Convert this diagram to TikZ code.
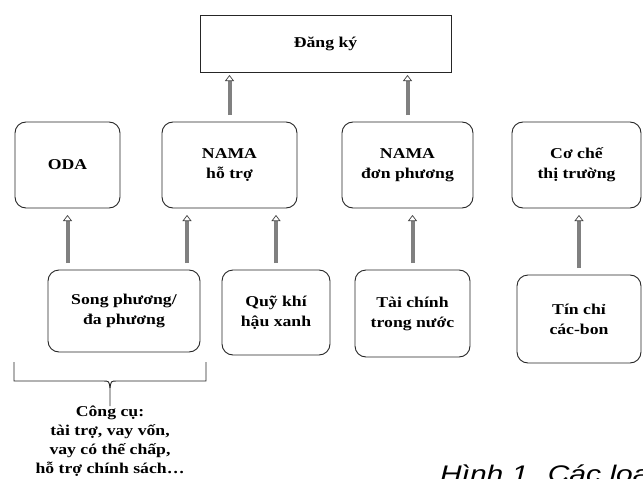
\documentclass[tikz,border=0pt]{standalone}
\usepackage{fontspec}
\setmainfont{Liberation Serif}[FakeStretch=1.18]
\newfontfamily\capfont{Liberation Sans}[FakeStretch=1.25]
\usetikzlibrary{arrows.meta}

\begin{document}
\begin{tikzpicture}[
  x=1pt, y=-1pt,
  every node/.style = {align=center, inner sep=0pt, outer sep=0pt,
                       font=\fontsize{15}{20}\selectfont\bfseries},
  box/.style = {shape=rectangle, rounded corners=11pt, draw=black!85,
                line width=0.9pt},
  uparrow/.style = {draw=black!50, line width=4pt,
    -{Triangle[open, line width=0.7pt, length=6pt, width=9pt,
               color=black!75, fill=white]}}
]
  \clip (0,0) rectangle (643,479);

  % top
  \node[draw=black!85, line width=0.9pt, minimum width=251pt, minimum height=57pt]
    (dangky) at (325.5,43.5) {Đăng ký};

  % middle row
  \node[box, minimum width=105pt, minimum height=86pt] (oda)    at (67.5,165)  {ODA};
  \node[box, minimum width=135pt, minimum height=86pt] (namaht) at (229.5,165) {NAMA\\hỗ trợ};
  \node[box, minimum width=131pt, minimum height=86pt] (namadp) at (407.5,165) {NAMA\\đơn phương};
  \node[box, minimum width=129pt, minimum height=86pt] (coche)  at (576.5,165) {Cơ chế\\thị trường};

  % bottom row
  \node[box, minimum width=152pt, minimum height=82pt] (songph)   at (124,311)   {Song phương/\\đa phương};
  \node[box, minimum width=108pt, minimum height=85pt] (quy)      at (276,312.5) {Quỹ khí\\hậu xanh};
  \node[box, minimum width=115pt, minimum height=87pt] (taichinh) at (412.5,313.5) {Tài chính\\trong nước};
  \node[box, minimum width=124pt, minimum height=88pt] (tinchi)   at (579,319)   {Tín chỉ\\các-bon};

  \node[anchor=north, font=\fontsize{15}{19}\selectfont\bfseries] (congcu) at (110,406)
    {Công cụ:\\tài trợ, vay vốn,\\vay có thế chấp,\\hỗ trợ chính sách…};

  \node[anchor=base west, font=\capfont\itshape\fontsize{24}{26}\selectfont]
    (caption) at (440,482) {Hình 1. Các loại};

  % arrows up
  \draw[uparrow, shorten <=7pt, shorten >=3pt] (namaht.north) -- (namaht.north |- dangky.south);
  \draw[uparrow, shorten <=7pt, shorten >=3pt] (namadp.north) -- (namadp.north |- dangky.south);

  \draw[uparrow, shorten <=7pt, shorten >=7pt] (songph.north -| oda.south) -- (oda.south);
  \draw[uparrow, shorten <=7pt, shorten >=7pt] ([xshift=-13pt]songph.north east)
    -- ([xshift=-13pt]songph.north east |- namaht.south);
  \draw[uparrow, shorten <=7pt, shorten >=7pt] (quy.north) -- (quy.north |- namaht.south);
  \draw[uparrow, shorten <=7pt, shorten >=7pt] (taichinh.north) -- (taichinh.north |- namadp.south);
  \draw[uparrow, shorten <=7pt, shorten >=7pt] (tinchi.north) -- (tinchi.north |- coche.south);

  % brace
  \draw[black!85, line width=0.9pt] (14,362) |- (103,381) .. controls (109,381) .. (110,388);
  \draw[black!85, line width=0.9pt] (206,362) |- (117,381) .. controls (111,381) .. (110,388)
    -- (congcu.north);
\end{tikzpicture}
\end{document}
